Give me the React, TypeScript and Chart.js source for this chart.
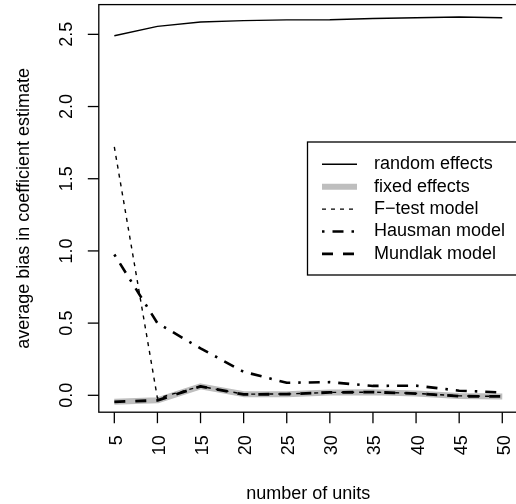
import React, { useEffect, useRef } from "react";
import { Chart, registerables } from "chart.js";

Chart.register(...registerables);

// Number of units in each simulation run
const units = [5, 10, 15, 20, 25, 30, 35, 40, 45, 50];

// Average bias of the coefficient estimate for each estimator
const randomEffects = [2.49, 2.555, 2.585, 2.595, 2.6, 2.601, 2.61, 2.615, 2.62, 2.615];
const fixedEffects = [-0.045, -0.035, 0.062, 0.008, 0.008, 0.02, 0.022, 0.013, -0.004, -0.008];
const fTestModel = [1.72, -0.02, 0.062, 0.008, 0.009, 0.02, 0.022, 0.013, -0.004, -0.008];
const hausmanModel = [0.975, 0.5, 0.325, 0.163, 0.087, 0.091, 0.065, 0.067, 0.032, 0.02];
const mundlakModel = [-0.045, -0.035, 0.062, 0.006, 0.008, 0.02, 0.022, 0.012, -0.006, -0.008];

const yTicks = [0, 0.5, 1, 1.5, 2, 2.5];
const yTickLabels = ["0.0", "0.5", "1.0", "1.5", "2.0", "2.5"];
const xTitle = "number of units";
const yTitle = "average bias in coefficient estimate";

const FONT = '18px "Liberation Sans", Arial, Helvetica, sans-serif';

type SeriesStyle = {
  label: string;
  values: number[];
  color: string;
  width: number;
  dash: number[];
  order: number;
};

const series: SeriesStyle[] = [
  { label: "random effects", values: randomEffects, color: "#000000", width: 1.4, dash: [], order: 5 },
  { label: "fixed effects", values: fixedEffects, color: "#bebebe", width: 6, dash: [], order: 4 },
  { label: "F\u2212test model", values: fTestModel, color: "#000000", width: 1.4, dash: [4, 5], order: 3 },
  { label: "Hausman model", values: hausmanModel, color: "#000000", width: 2.6, dash: [2.5, 8, 11, 8], order: 2 },
  { label: "Mundlak model", values: mundlakModel, color: "#000000", width: 2.8, dash: [11, 10], order: 1 },
];

// Frame, axes, titles and the boxed legend in base-graphics style
const framePlugin = {
  id: "frame",
  afterDraw(chart: any) {
    const { ctx, chartArea: a, scales } = chart;
    const xs = scales.x;
    const ys = scales.y;
    ctx.save();
    ctx.strokeStyle = "#000";
    ctx.fillStyle = "#000";
    ctx.lineWidth = 1.3;
    ctx.setLineDash([]);
    ctx.strokeRect(a.left, a.top, a.right - a.left, a.bottom - a.top);

    ctx.font = FONT;
    const tick = 11;

    // y axis ticks and labels (parallel to axis)
    yTicks.forEach((v, i) => {
      const py = ys.getPixelForValue(v);
      ctx.beginPath();
      ctx.moveTo(a.left, py);
      ctx.lineTo(a.left - tick, py);
      ctx.stroke();
      ctx.save();
      ctx.translate(a.left - 26.5, py);
      ctx.rotate(-Math.PI / 2);
      ctx.textAlign = "center";
      ctx.textBaseline = "alphabetic";
      ctx.fillText(yTickLabels[i], 0, 0);
      ctx.restore();
    });

    // x axis ticks and labels (perpendicular to axis)
    units.forEach((u) => {
      const px = xs.getPixelForValue(u);
      ctx.beginPath();
      ctx.moveTo(px, a.bottom);
      ctx.lineTo(px, a.bottom + tick);
      ctx.stroke();
      ctx.save();
      ctx.translate(px + 7.5, a.bottom + 23);
      ctx.rotate(-Math.PI / 2);
      ctx.textAlign = "right";
      ctx.textBaseline = "alphabetic";
      ctx.fillText(String(u), 0, 0);
      ctx.restore();
    });

    // axis titles
    ctx.textAlign = "center";
    ctx.textBaseline = "alphabetic";
    ctx.fillText(xTitle, (a.left + a.right) / 2, 499);
    ctx.save();
    ctx.translate(28.5, (a.top + a.bottom) / 2);
    ctx.rotate(-Math.PI / 2);
    ctx.fillText(yTitle, 0, 0);
    ctx.restore();

    // legend
    const lx = 307.5;
    const ly = 142;
    const rowH = 22.4;
    const firstRow = 164.3;
    const boxH = 133;
    ctx.fillStyle = "#ffffff";
    ctx.fillRect(lx, ly, 260, boxH);
    ctx.strokeStyle = "#000";
    ctx.lineWidth = 1.3;
    ctx.strokeRect(lx, ly, 260, boxH);
    series.forEach((s, i) => {
      const ry = firstRow + i * rowH;
      ctx.save();
      ctx.strokeStyle = s.color;
      ctx.lineWidth = s.width;
      ctx.setLineDash(s.dash);
      ctx.lineCap = "butt";
      ctx.beginPath();
      ctx.moveTo(322, ry);
      ctx.lineTo(357, ry);
      ctx.stroke();
      ctx.restore();
      ctx.fillStyle = "#000";
      ctx.textAlign = "left";
      ctx.textBaseline = "middle";
      ctx.fillText(s.label, 374, ry);
    });
    ctx.restore();
  },
};

export default function App() {
  const canvasRef = useRef<HTMLCanvasElement | null>(null);

  useEffect(() => {
    const canvas = canvasRef.current;
    if (!canvas) return;
    const chart = new Chart(canvas, {
      type: "line",
      data: {
        datasets: series.map((s) => ({
          label: s.label,
          data: units.map((u, i) => ({ x: u, y: s.values[i] })),
          borderColor: s.color,
          borderWidth: s.width,
          borderDash: s.dash,
          borderCapStyle: "butt" as const,
          borderJoinStyle: "round" as const,
          pointRadius: 0,
          tension: 0,
          fill: false,
          order: s.order,
        })),
      },
      options: {
        responsive: false,
        animation: false,
        devicePixelRatio: 1,
        layout: { padding: { left: 98.8, right: 12.2, top: 4.6, bottom: 91.8 } },
        plugins: {
          legend: { display: false },
          tooltip: { enabled: false },
          title: { display: false },
        },
        scales: {
          x: { type: "linear", min: 3.2, max: 51.8, display: false },
          y: { type: "linear", min: -0.117, max: 2.706, display: false },
        },
      },
      plugins: [framePlugin],
    });
    return () => chart.destroy();
  }, []);

  return (
    <div
      style={{
        position: "absolute",
        left: 0,
        top: 0,
        width: 516,
        height: 504,
        overflow: "hidden",
        background: "#ffffff",
      }}
    >
      <canvas ref={canvasRef} width={530} height={504} style={{ width: 530, height: 504, display: "block" }} />
    </div>
  );
}
